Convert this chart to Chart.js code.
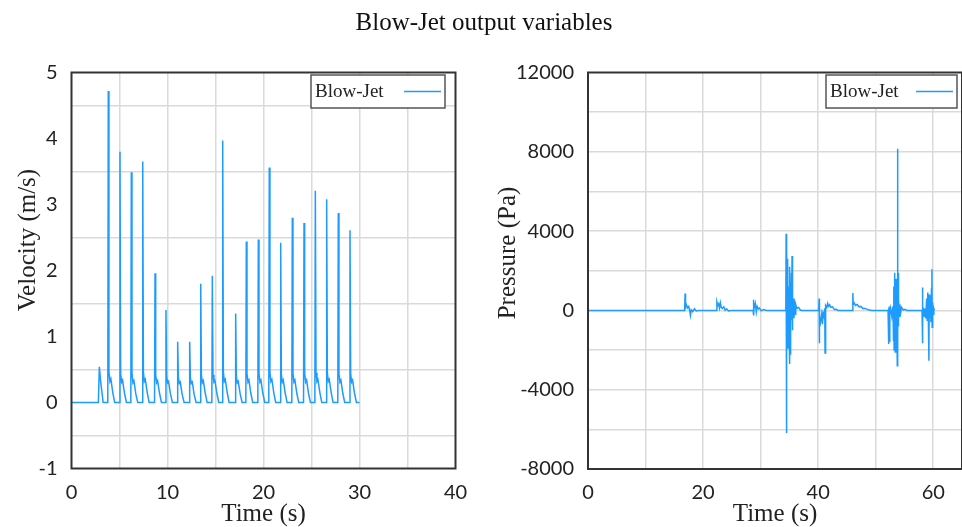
<!DOCTYPE html>
<html>
<head>
<meta charset="utf-8">
<script src="https://cdn.jsdelivr.net/npm/chart.js@4.4.0/dist/chart.umd.min.js"></script>
<style>
  html, body { margin: 0; padding: 0; background: #fff; }
  #wrap { position: relative; width: 962px; height: 527px; overflow: hidden; }
  #title {
    position: absolute; left: 0; top: 8px; width: 968px; text-align: center;
    font: 25px "Liberation Serif", serif; line-height: 28px; color: #111;
  }
  #velCanvas { position: absolute; left: 0; top: 0; }
  #presCanvas { position: absolute; left: 480px; top: 0; }
</style>
</head>
<body>
<div id="wrap">
  <canvas id="velCanvas" width="480" height="527"></canvas>
  <canvas id="presCanvas" width="482" height="527"></canvas>
  <div id="title">Blow-Jet output variables</div>
</div>
<script>
// ---------- velocity (left panel) ----------
const velTime = [
  0, 2.8, 2.9, 3.05, 3.3,
  3.78, 3.83, 3.9, 4.0, 4.1, 4.3, 4.5,
  5.0, 5.05, 5.12, 5.22, 5.32, 5.52, 5.72,
  6.18, 6.23, 6.3, 6.4, 6.5, 6.7, 6.9,
  7.37, 7.42, 7.49, 7.59, 7.69, 7.89, 8.09,
  8.65, 8.7, 8.77, 8.87, 8.97, 9.17, 9.37,
  9.79, 9.84, 9.91, 10.01, 10.11, 10.31, 10.51,
  11.01, 11.06, 11.13, 11.23, 11.33, 11.53, 11.73,
  12.26, 12.31, 12.38, 12.48, 12.58, 12.78, 12.98,
  13.41, 13.46, 13.53, 13.63, 13.73, 13.93, 14.13,
  14.62, 14.67, 14.74, 14.84, 14.94, 15.14, 15.34,
  15.7, 15.75, 15.82, 15.92, 16.02, 16.22, 16.42,
  17.05, 17.1, 17.17, 17.27, 17.37, 17.57, 17.77,
  18.16, 18.21, 18.28, 18.38, 18.48, 18.68, 18.88,
  19.41, 19.46, 19.53, 19.63, 19.73, 19.93, 20.13,
  20.55, 20.6, 20.67, 20.77, 20.87, 21.07, 21.27,
  21.74, 21.79, 21.86, 21.96, 22.06, 22.26, 22.46,
  22.95, 23.0, 23.07, 23.17, 23.27, 23.47, 23.67,
  24.17, 24.22, 24.29, 24.39, 24.49, 24.69, 24.89,
  25.35, 25.4, 25.47, 25.57, 25.67, 25.87, 26.07,
  26.53, 26.58, 26.65, 26.75, 26.85, 27.05, 27.25,
  27.74, 27.79, 27.86, 27.96, 28.06, 28.26, 28.46,
  28.96, 29.01, 29.08, 29.18, 29.28, 29.48, 29.68,
  30.0
];
const velValue = [
  0, 0, 0.54, 0.3, 0,
  0, 4.72, 0.46, 0.32, 0.36, 0.15, 0,
  0, 3.80, 0.44, 0.31, 0.34, 0.14, 0,
  0, 3.49, 0.45, 0.30, 0.33, 0.13, 0,
  0, 3.65, 0.46, 0.32, 0.35, 0.15, 0,
  0, 1.96, 0.42, 0.30, 0.33, 0.14, 0,
  0, 1.40, 0.40, 0.30, 0.32, 0.13, 0,
  0, 0.92, 0.38, 0.29, 0.31, 0.12, 0,
  0, 0.92, 0.38, 0.29, 0.31, 0.12, 0,
  0, 1.80, 0.42, 0.30, 0.33, 0.14, 0,
  0, 1.92, 0.42, 0.31, 0.33, 0.14, 0,
  0, 3.97, 0.46, 0.32, 0.35, 0.15, 0,
  0, 1.35, 0.40, 0.30, 0.32, 0.13, 0,
  0, 2.44, 0.44, 0.31, 0.34, 0.14, 0,
  0, 2.47, 0.44, 0.31, 0.34, 0.14, 0,
  0, 3.56, 0.45, 0.32, 0.35, 0.15, 0,
  0, 2.42, 0.43, 0.31, 0.34, 0.14, 0,
  0, 2.80, 0.44, 0.31, 0.34, 0.14, 0,
  0, 2.72, 0.44, 0.31, 0.34, 0.14, 0,
  0, 3.21, 0.45, 0.32, 0.35, 0.15, 0,
  0, 3.08, 0.45, 0.32, 0.35, 0.15, 0,
  0, 2.87, 0.44, 0.31, 0.34, 0.14, 0,
  0, 2.61, 0.44, 0.31, 0.34, 0.14, 0,
  0
];

// ---------- pressure (right panel) ----------
const presTime = [
  0,
  16.8, 16.87, 16.95, 17.1, 17.3, 17.5, 17.7, 17.8, 17.95, 18.2, 18.5, 18.8, 19.2,
  22.3, 22.4, 22.55, 22.7, 22.85, 23.0, 23.15, 23.35, 23.6, 23.85, 24.1, 24.4, 24.8,
  28.7, 28.75, 28.82, 28.9, 29.0, 29.1, 29.25, 29.4, 29.6, 29.8, 30.1, 30.5, 31.0,
  34.38, 34.43, 34.45, 34.48, 34.5, 34.52, 34.55, 34.58, 34.62, 34.65, 34.7, 34.74, 34.78,
  34.82, 34.86, 34.9, 34.95, 35.0, 35.04, 35.08, 35.12, 35.16, 35.2, 35.28, 35.35, 35.4,
  35.46, 35.5, 35.55, 35.6, 35.7, 35.8, 35.9, 36.0, 36.1, 36.3, 36.6, 36.9, 37.2,
  40.1, 40.17, 40.2, 40.25, 40.4, 40.6, 40.75, 40.85, 41.0, 41.15, 41.2, 41.25, 41.35,
  41.5, 41.65, 41.8, 42.0, 42.2, 42.5, 42.8, 43.1, 43.5,
  45.95, 46.03, 46.1, 46.25, 46.5, 46.8, 47.1, 47.4, 47.8, 48.2, 48.7, 49.3,
  52.15, 52.22, 52.26, 52.3, 52.35, 52.42, 52.48, 52.6, 52.8, 53.0, 53.1, 53.15, 53.2,
  53.25, 53.3, 53.35, 53.4, 53.45, 53.5, 53.55, 53.62, 53.68, 53.75, 53.8, 53.84, 53.88,
  53.93, 54.0, 54.1, 54.2, 54.35, 54.5, 54.8, 55.1, 55.4,
  58.05, 58.12, 58.15, 58.2, 58.3, 58.4, 58.55, 58.7, 58.85, 58.95, 59.05, 59.15, 59.25,
  59.3, 59.4, 59.5, 59.6, 59.7, 59.77, 59.82, 59.9, 60.0, 60.1, 60.2
];
const presValue = [
  0,
  0, 850, 150, 280, 120, 200, -50, -250, 30, -60, 80, -30, 0,
  0, 420, 250, 330, 120, 380, 150, 100, 180, 0, 80, -30, 0,
  0, 540, -250, 380, 120, 300, -80, 200, 80, 120, -20, 40, 0,
  0, 3870, -1500, 3800, -1900, 3750, -6190, 3200, -1800, 2600, -1600, 1800, -1900,
  1200, -800, 900, -400, 2200, -2700, 1500, -2200, 800, -600, 300, 1900, -500,
  2750, -1000, 1200, -300, 600, -400, 500, -200, 300, 100, 150, 20, 0,
  0, 600, -1660, -300, -600, -200, -700, -150, -300, 100, -2150, -100, 250,
  150, 350, 200, 280, 150, 180, 50, 60, 0,
  0, 880, 300, 380, 250, 300, 180, 200, 90, 100, 30, 0,
  0, -1700, 100, -1000, 200, -1600, -200, 100, -300, 200, -1500, 1200, -2000,
  1900, -1800, 1500, -2100, 1000, -1200, 1600, -900, 800, -2790, 8160, -1500, 1900,
  -800, 600, -300, 300, -100, 150, 20, 50, 0,
  0, 1150, -1660, -200, 150, -300, 100, -400, 600, -500, 900, -300, -2540,
  800, -400, 700, -600, 1100, 2070, -850, 400, -200, 100, 0
];

const velTicks = [-1, 0, 1, 2, 3, 4, 5];
const velTimeTicks = [0, 10, 20, 30, 40];
const presTicks = [-8000, -4000, 0, 4000, 8000, 12000];
const presTimeTicks = [0, 20, 40, 60];

const lineColor = '#1e9bff';
const gridColor = '#dadada';
const tickFont = { family: 'Lato', size: 20 };

// frame, rotated y title and the boxed legend
const decor = {
  id: 'decor',
  afterDraw(chart, args, o) {
    const { ctx, chartArea: a } = chart;
    ctx.save();
    ctx.strokeStyle = '#333';
    ctx.lineWidth = 2;
    ctx.strokeRect(a.left, a.top, a.right - a.left, a.bottom - a.top);

    // legend box
    const L = o.legend;
    ctx.fillStyle = '#fff';
    ctx.fillRect(L.x, L.y, L.w, L.h);
    ctx.strokeStyle = '#555';
    ctx.lineWidth = 1.5;
    ctx.strokeRect(L.x, L.y, L.w, L.h);
    ctx.fillStyle = '#222';
    ctx.font = '19px "Liberation Serif"';
    ctx.textAlign = 'left';
    ctx.textBaseline = 'middle';
    ctx.fillText(chart.data.datasets[0].label, L.x + 4, L.y + L.h / 2 + 1);
    ctx.strokeStyle = lineColor;
    ctx.lineWidth = 1.5;
    ctx.beginPath();
    ctx.moveTo(L.x + L.w - 41, L.y + L.h / 2);
    ctx.lineTo(L.x + L.w - 4, L.y + L.h / 2);
    ctx.stroke();

    // y title
    ctx.translate(o.yTitleX, o.yTitleY);
    ctx.rotate(-Math.PI / 2);
    ctx.fillStyle = '#222';
    ctx.font = '25px "Liberation Serif"';
    ctx.textAlign = 'center';
    ctx.textBaseline = 'middle';
    ctx.fillText(o.yTitle, 0, 0);
    ctx.restore();
  }
};

function makeChart(canvasId, xs, ys, cfg) {
  return new Chart(document.getElementById(canvasId), {
    type: 'scatter',
    data: {
      datasets: [{
        label: 'Blow-Jet',
        data: xs.map((t, i) => ({ x: t, y: ys[i] })),
        showLine: true,
        borderColor: lineColor,
        borderWidth: 1.5,
        pointRadius: 0,
        tension: 0
      }]
    },
    options: {
      responsive: false,
      animation: false,
      layout: { padding: cfg.padding },
      plugins: {
        legend: { display: false },
        tooltip: { enabled: false },
        decor: cfg.decor
      },
      scales: {
        x: {
          type: 'linear',
          min: cfg.xMin, max: cfg.xMax,
          border: { display: false },
          grid: {
            drawTicks: false, lineWidth: 1.5,
            color: c => (c.tick.value <= cfg.xMin || c.tick.value >= cfg.xMax) ? 'transparent' : gridColor
          },
          ticks: {
            stepSize: cfg.xGridStep, autoSkip: false, maxRotation: 0, includeBounds: false,
            padding: 12, color: '#222', font: tickFont,
            callback: v => cfg.xLabels.includes(v) ? String(v) : ''
          },
          title: {
            display: true, text: 'Time (s)', color: '#222',
            font: { family: 'Liberation Serif', size: 25, lineHeight: 1 },
            padding: { top: 0, bottom: 0 }
          },
          afterFit: s => {
            s.height = cfg.xHeight;
            s.paddingLeft = 0;
            s.paddingRight = 0;
          }
        },
        y: {
          min: cfg.yMin, max: cfg.yMax,
          border: { display: false },
          grid: {
            drawTicks: false, lineWidth: 1.5,
            color: c => (cfg.yLabels.includes(c.tick.value) && !cfg.gridOnLabels) ||
                        c.tick.value <= cfg.yMin || c.tick.value >= cfg.yMax ? 'transparent' : gridColor
          },
          ticks: {
            stepSize: cfg.yGridStep, autoSkip: false,
            padding: 14, color: '#222', font: tickFont,
            callback: v => cfg.yLabels.includes(v) ? String(v) : ''
          },
          afterFit: s => {
            s.width = cfg.yWidth;
            s.paddingTop = 0;
            s.paddingBottom = 0;
          }
        }
      }
    },
    plugins: [decor]
  });
}

makeChart('velCanvas', velTime, velValue, {
  padding: { top: 72.5, right: 24.5, left: 0, bottom: 0 },
  xMin: 0, xMax: 40, xGridStep: 5, xLabels: velTimeTicks, xHeight: 58.5,
  yMin: -1, yMax: 5, yGridStep: 0.5, yLabels: velTicks, yWidth: 71.5, gridOnLabels: false,
  decor: {
    legend: { x: 311, y: 75, w: 134, h: 33 },
    yTitle: 'Velocity (m/s)', yTitleX: 28, yTitleY: 240
  }
});

makeChart('presCanvas', presTime, presValue, {
  padding: { top: 72.5, right: 0, left: 0, bottom: 0 },
  xMin: 0, xMax: 65, xGridStep: 10, xLabels: presTimeTicks, xHeight: 58,
  yMin: -8000, yMax: 12000, yGridStep: 2000, yLabels: presTicks, yWidth: 108, gridOnLabels: true,
  decor: {
    legend: { x: 346, y: 75, w: 131, h: 33 },
    yTitle: 'Pressure (Pa)', yTitleX: 28, yTitleY: 253
  }
});
</script>
</body>
</html>
